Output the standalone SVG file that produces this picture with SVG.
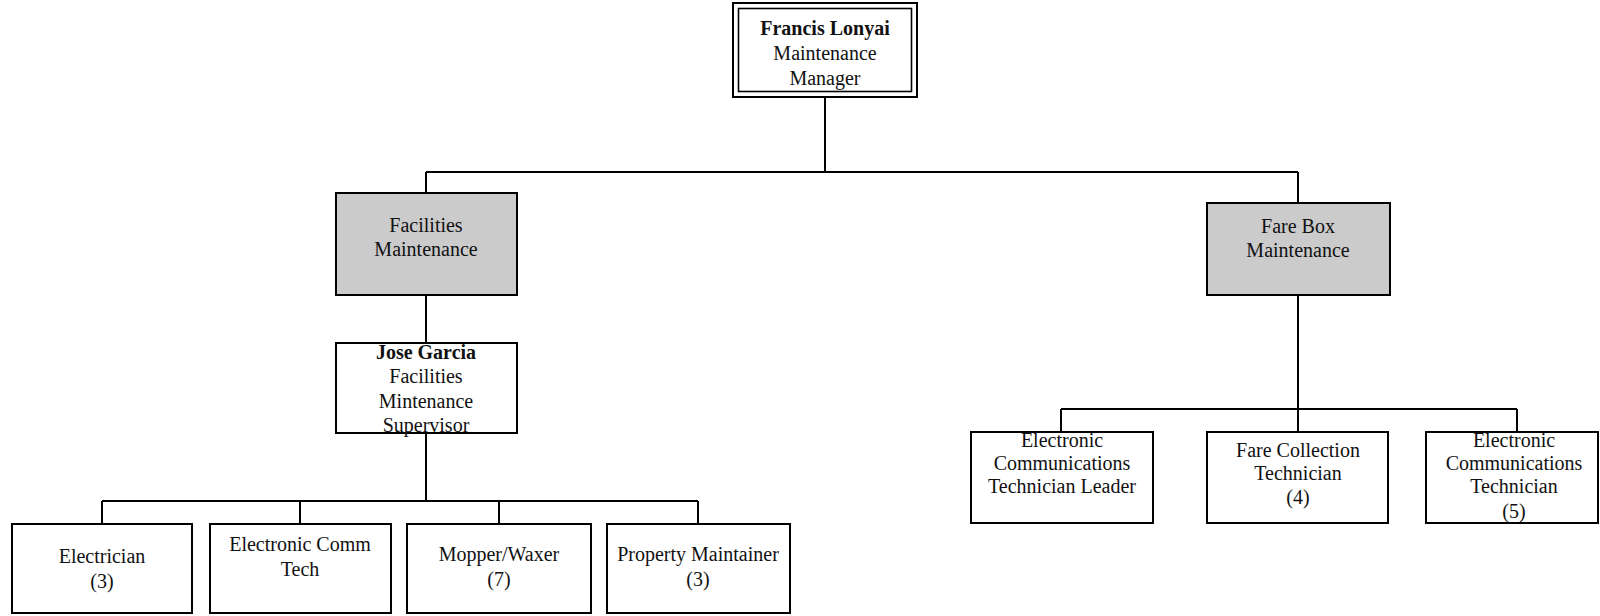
<svg xmlns="http://www.w3.org/2000/svg" width="1600" height="616" viewBox="0 0 1600 616">
<style>
  .box{fill:#ffffff;stroke:#000;stroke-width:2}
  .shade{fill:#cbcbcb;stroke:#000;stroke-width:2}
  .inner{fill:none;stroke:#000;stroke-width:1.6}
  .t{font-family:"Liberation Serif","Times New Roman",serif;font-size:20px;fill:#111;text-anchor:middle}
  .b{font-weight:bold}
  .conn{fill:none;stroke:#000;stroke-width:2}
</style>
<rect width="1600" height="616" fill="#fff"/>
<g id="connectors" class="conn">
  <path d="M825 97V172M426 172H1298M426 172V193M1298 172V203"/>
  <path d="M426 295V343M426 433V501M102 501H698M102 501V524M300 501V524M499 501V524M698 501V524"/>
  <path d="M1298 295V409M1061 409H1517M1061 409V432M1298 409V432M1517 409V432"/>
</g>
<g id="manager">
  <rect class="box" x="733" y="3" width="184" height="94"/>
  <rect class="inner" x="738.5" y="8.5" width="173" height="83"/>
  <text class="t b" x="825" y="35">Francis Lonyai</text>
  <text class="t" x="825" y="60">Maintenance</text>
  <text class="t" x="825" y="85">Manager</text>
</g>
<g id="facilities">
  <rect class="shade" x="336" y="193" width="181" height="102"/>
  <text class="t" x="426" y="232">Facilities</text>
  <text class="t" x="426" y="256">Maintenance</text>
</g>
<g id="farebox">
  <rect class="shade" x="1207" y="203" width="183" height="92"/>
  <text class="t" x="1298" y="233">Fare Box</text>
  <text class="t" x="1298" y="257">Maintenance</text>
</g>
<g id="jose">
  <rect class="box" x="336" y="343" width="181" height="90"/>
  <text class="t b" x="426" y="359">Jose Garcia</text>
  <text class="t" x="426" y="383">Facilities</text>
  <text class="t" x="426" y="408">Mintenance</text>
  <text class="t" x="426" y="432">Supervisor</text>
</g>
<g id="electrician">
  <rect class="box" x="12" y="524" width="180" height="89"/>
  <text class="t" x="102" y="563">Electrician</text>
  <text class="t" x="102" y="588">(3)</text>
</g>
<g id="ecommtech">
  <rect class="box" x="210" y="524" width="181" height="89"/>
  <text class="t" x="300" y="551">Electronic Comm</text>
  <text class="t" x="300" y="576">Tech</text>
</g>
<g id="mopper">
  <rect class="box" x="407" y="524" width="184" height="89"/>
  <text class="t" x="499" y="561">Mopper/Waxer</text>
  <text class="t" x="499" y="586">(7)</text>
</g>
<g id="property">
  <rect class="box" x="607" y="524" width="183" height="89"/>
  <text class="t" x="698" y="561">Property Maintainer</text>
  <text class="t" x="698" y="586">(3)</text>
</g>
<g id="ectleader">
  <rect class="box" x="971" y="432" width="182" height="91"/>
  <text class="t" x="1062" y="447">Electronic</text>
  <text class="t" x="1062" y="470">Communications</text>
  <text class="t" x="1062" y="493">Technician Leader</text>
</g>
<g id="farecollection">
  <rect class="box" x="1207" y="432" width="181" height="91"/>
  <text class="t" x="1298" y="457">Fare Collection</text>
  <text class="t" x="1298" y="480">Technician</text>
  <text class="t" x="1298" y="504">(4)</text>
</g>
<g id="ectech">
  <rect class="box" x="1426" y="432" width="172" height="91"/>
  <text class="t" x="1514" y="447">Electronic</text>
  <text class="t" x="1514" y="470">Communications</text>
  <text class="t" x="1514" y="493">Technician</text>
  <text class="t" x="1514" y="518">(5)</text>
</g>
</svg>
